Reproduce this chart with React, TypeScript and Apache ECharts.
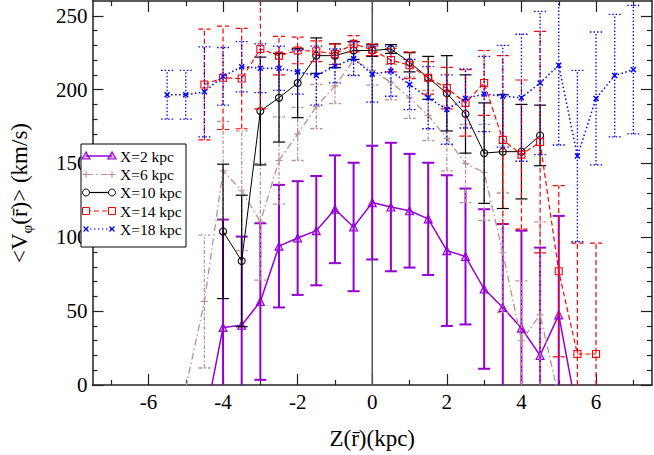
import React, { useEffect, useRef } from "react";
import * as echarts from "echarts";

// ---------------- data ----------------
const zX2 = [-4.5, -4, -3.5, -3, -2.5, -2, -1.5, -1, -0.5, 0, 0.5, 1, 1.5, 2, 2.5, 3, 3.5, 4, 4.5, 5, 5.5];
const vX2 = [-26, 39, 40.5, 56.5, 94, 99.5, 104.5, 119, 107, 123.5, 120.5, 118, 112.5, 91, 87, 65, 52.5, 38.5, 20, 47.5, -20];
const eX2 = [15, 73, 60, 53, 41.5, 38.5, 37, 36.5, 43.5, 38.5, 43.5, 38.5, 38, 51, 46, 54, 56.5, 66, 73, 67, 15];

const zX6 = [-5, -4.5, -4, -3.5, -3, -2.5, -2, -1.5, -1, -0.5, 0, 0.5, 1, 1.5, 2, 2.5, 3, 3.5, 4, 4.5, 5];
const vX6 = [-2, 56.5, 145, 131.5, 110.5, 152, 170, 188.5, 202.5, 220, 213, 205, 194.5, 182.5, 167, 150, 144, 89.5, 30, 47.5, -8];
const eX6 = [1, 45, 33.5, 40.5, 39.5, 29.5, 18, 15, 12, 10, 10, 12, 14, 17, 22, 26.5, 32.5, 40.5, 40.5, 63, 1];

const zX10 = [-4, -3.5, -3, -2.5, -2, -1.5, -1, -0.5, 0, 0.5, 1, 1.5, 2, 2.5, 3, 3.5, 4, 4.5];
const vX10 = [104, 84, 185.5, 194.5, 204.5, 223, 223, 226.5, 226.5, 227.5, 218.5, 208, 197.5, 183.5, 157, 158, 158, 169];
const eX10 = [45.5, 44.5, 36.5, 30, 23.5, 12, 8, 6, 4, 3, 6.5, 14.5, 25.5, 26.5, 34, 38.5, 32, 20.5];

const zX14 = [-4.5, -4, -3.5, -3, -2.5, -2, -1.5, -1, -0.5, 0, 0.5, 1, 1.5, 2, 2.5, 3, 3.5, 4, 4.5, 5, 5.5, 6];
const vX14 = [203.5, 208, 207.5, 227.5, 223, 226.5, 226, 224, 231, 227, 220, 216.5, 208, 201, 191, 204.5, 166, 156, 164.5, 77, 21, 21];
const eX14 = [37.5, 35, 34, 40.5, 13, 9, 7, 7, 5.5, 4, 8, 9, 11, 14, 22.5, 22, 57, 50.5, 75, 58, 75, 75];

const zX18 = [-5.5, -5, -4.5, -4, -3.5, -3, -2.5, -2, -1.5, -1, -0.5, 0, 0.5, 1, 1.5, 2, 2.5, 3, 3.5, 4, 4.5, 5, 5.5, 6, 6.5, 7];
const vX18 = [196.5, 196.5, 198.5, 209, 215.5, 214.5, 214.5, 212, 209.5, 216, 221, 210.5, 212.5, 203.5, 194.5, 186.5, 194, 197, 195.5, 194.5, 204.5, 216.5, 155, 194, 209.5, 213.5];
const eX18 = [16.5, 16.5, 30.5, 19.5, 17, 16.5, 15, 15, 20, 11.5, 11.5, 19, 17, 17, 21, 23.5, 20, 25.5, 34.5, 43, 48.5, 54, 58, 45, 41.5, 43.5];

const seriesNames = ["X=2 kpc", "X=6 kpc", "X=10 kpc", "X=14 kpc", "X=18 kpc"];

const xLabelValues = [-6, -4, -2, 0, 2, 4, 6];
const xMinorValues = [-7, -5, -3, -1, 1, 3, 5, 7];
const yLabelValues = [0, 50, 100, 150, 200, 250];
const yMinorValues = [10, 20, 30, 40, 60, 70, 80, 90, 110, 120, 130, 140, 160, 170, 180, 190, 210, 220, 230, 240];
const zeroLine = [[0, 0], [0, 260]];

// ---------------- config ----------------
const X_MIN = -7.5, X_MAX = 7.5, Y_MIN = 0, Y_MAX = 260;
const FONT = "Liberation Serif";

const PLUS = "path://M0,5L10,5M5,0L5,10";
const CROSS = "path://M0,0L10,10M10,0L0,10";

type Style = {
  color: string;
  fill: string;
  symbol: string;
  symbolSize: number;
  lineWidth: number;
  dash: number[] | null;
  errWidth: number;
  errDash: number[] | null;
};

const styles: Style[] = [
  { color: "#9400d3", fill: "rgba(148,0,211,0.3)", symbol: "triangle", symbolSize: 8, lineWidth: 1.5, dash: null, errWidth: 2, errDash: null },
  { color: "#bc8f8f", fill: "#bc8f8f", symbol: PLUS, symbolSize: 7, lineWidth: 1.3, dash: [7, 3, 1.5, 3], errWidth: 1.3, errDash: [4, 2, 1.5, 2] },
  { color: "#000000", fill: "rgba(0,0,0,0)", symbol: "circle", symbolSize: 7, lineWidth: 1, dash: null, errWidth: 1.2, errDash: null },
  { color: "#ff0000", fill: "rgba(0,0,0,0)", symbol: "rect", symbolSize: 7, lineWidth: 1.2, dash: [5, 3], errWidth: 1.2, errDash: [5, 3] },
  { color: "#0000ff", fill: "#0000ff", symbol: CROSS, symbolSize: 5, lineWidth: 1.5, dash: [1.5, 2.5], errWidth: 1.3, errDash: [1.5, 2] },
];

const groups = [
  [zX2, vX2, eX2],
  [zX6, vX6, eX6],
  [zX10, vX10, eX10],
  [zX14, vX14, eX14],
  [zX18, vX18, eX18],
];

function errRender(st: Style) {
  return (params: any, api: any) => {
    const z = api.value(0);
    const lo = api.value(1);
    const hi = api.value(2);
    const loC = Math.max(lo, Y_MIN);
    const hiC = Math.min(hi, Y_MAX);
    if (hiC <= loC) return { type: "group", children: [] };
    const p1 = api.coord([z, loC]);
    const p2 = api.coord([z, hiC]);
    const hw = 6;
    const ls = { stroke: st.color, lineWidth: st.errWidth, lineDash: st.errDash || undefined, fill: null };
    const children: any[] = [
      { type: "line", shape: { x1: p1[0], y1: p1[1], x2: p2[0], y2: p2[1] }, style: ls },
    ];
    if (lo >= Y_MIN) children.push({ type: "line", shape: { x1: p1[0] - hw, y1: p1[1], x2: p1[0] + hw, y2: p1[1] }, style: ls });
    if (hi <= Y_MAX) children.push({ type: "line", shape: { x1: p2[0] - hw, y1: p2[1], x2: p2[0] + hw, y2: p2[1] }, style: ls });
    return { type: "group", children };
  };
}

function legendSymbol(i: number, cx: number, cy: number): any[] {
  const st = styles[i];
  const z = 101;
  if (i === 0) {
    return [{ type: "polygon", z, shape: { points: [[cx, cy - 4], [cx - 4, cy + 3], [cx + 4, cy + 3]] }, style: { fill: st.fill, stroke: st.color, lineWidth: 1.2 } }];
  }
  if (i === 1) {
    return [
      { type: "line", z, shape: { x1: cx - 3.5, y1: cy, x2: cx + 3.5, y2: cy }, style: { stroke: st.color, lineWidth: 1 } },
      { type: "line", z, shape: { x1: cx, y1: cy - 3.5, x2: cx, y2: cy + 3.5 }, style: { stroke: st.color, lineWidth: 1 } },
    ];
  }
  if (i === 2) {
    return [{ type: "circle", z, shape: { cx, cy, r: 3.5 }, style: { fill: "#fff", stroke: st.color, lineWidth: 1 } }];
  }
  if (i === 3) {
    return [{ type: "rect", z, shape: { x: cx - 3.5, y: cy - 3.5, width: 7, height: 7 }, style: { fill: "#fff", stroke: st.color, lineWidth: 1 } }];
  }
  return [
    { type: "line", z, shape: { x1: cx - 2.5, y1: cy - 2.5, x2: cx + 2.5, y2: cy + 2.5 }, style: { stroke: st.color, lineWidth: 1.3 } },
    { type: "line", z, shape: { x1: cx + 2.5, y1: cy - 2.5, x2: cx - 2.5, y2: cy + 2.5 }, style: { stroke: st.color, lineWidth: 1.3 } },
  ];
}

function buildLegend(): any[] {
  const left = 81, top = 144, w = 105, h = 103;
  const els: any[] = [
    { type: "rect", z: 100, shape: { x: left, y: top, width: w, height: h }, style: { fill: "#fff", stroke: "#000", lineWidth: 1 } },
  ];
  const rows = [156, 174.5, 192.5, 211, 229];
  rows.forEach((y, i) => {
    const st = styles[i];
    els.push({
      type: "line", z: 101,
      shape: { x1: 86, y1: y, x2: 112, y2: y },
      style: { stroke: st.color, lineWidth: i === 0 ? 1.5 : 1.2, lineDash: st.dash || undefined },
    });
    els.push(...legendSymbol(i, 86, y));
    els.push(...legendSymbol(i, 112, y));
    els.push({
      type: "text", z: 101, x: 120, y,
      style: { text: seriesNames[i], font: `15.5px "${FONT}"`, fill: "#000", verticalAlign: "middle", align: "left" },
    });
  });
  return els;
}

function buildOption(): any {
  const series: any[] = [
    {
      type: "line", data: zeroLine, symbol: "none", silent: true, z: 1,
      lineStyle: { color: "#555", width: 1.5 }, xAxisIndex: 0, yAxisIndex: 0,
    },
  ];
  groups.forEach((g, i) => {
    const [zs, vs, es] = g as number[][];
    const st = styles[i];
    series.push({
      type: "custom",
      name: seriesNames[i] + " err",
      renderItem: errRender(st),
      data: zs.map((z, k) => [z, vs[k] - es[k], vs[k] + es[k]]),
      encode: { x: 0, y: [1, 2] },
      xAxisIndex: 0, yAxisIndex: 0,
      z: 2 + i * 2,
      silent: true,
    });
    series.push({
      type: "line",
      name: seriesNames[i],
      data: zs.map((z, k) => [z, vs[k]]),
      xAxisIndex: 0, yAxisIndex: 0,
      symbol: st.symbol,
      symbolSize: st.symbolSize,
      showAllSymbol: true,
      clip: true,
      z: 3 + i * 2,
      lineStyle: { color: st.color, width: st.lineWidth, type: st.dash ? st.dash : "solid" },
      itemStyle: { color: st.fill, borderColor: st.color, borderWidth: i === 4 ? 1.5 : 1.1 },
      emphasis: { disabled: true },
    });
  });

  const axisLine = { show: true, onZero: false, lineStyle: { color: "#222", width: 1.5 } };
  const noLine = { show: false, onZero: false };
  const tickStyle = { color: "#222", width: 1.2 };
  const labelFont = { fontSize: 21, fontFamily: FONT, color: "#000" };

  const xTickAxis = (position: string, values: number[], length: number, withLine: boolean) => ({
    type: "value", min: X_MIN, max: X_MAX, position,
    axisLine: withLine ? axisLine : noLine,
    axisTick: { show: true, inside: true, length, customValues: values, lineStyle: tickStyle },
    axisLabel: { show: false },
    splitLine: { show: false },
  });
  const yTickAxis = (position: string, values: number[], length: number, withLine: boolean) => ({
    type: "value", min: Y_MIN, max: Y_MAX, position,
    axisLine: withLine ? axisLine : noLine,
    axisTick: { show: true, inside: true, length, customValues: values, lineStyle: tickStyle },
    axisLabel: { show: false },
    splitLine: { show: false },
  });

  return {
    animation: false,
    backgroundColor: "#fff",
    grid: { left: 80, right: 2, top: 1, bottom: 54, containLabel: false },
    xAxis: [
      {
        type: "value", min: X_MIN, max: X_MAX, position: "bottom",
        axisLine,
        axisTick: { show: true, inside: true, length: 11, customValues: xLabelValues, lineStyle: tickStyle },
        axisLabel: { show: true, customValues: xLabelValues, ...labelFont, margin: 6 },
        splitLine: { show: false },
        name: "Z(r\u0304)(kpc)",
        nameLocation: "middle",
        nameGap: 42,
        nameTextStyle: { fontSize: 23, fontFamily: FONT, color: "#000" },
      },
      xTickAxis("bottom", xMinorValues, 5, false),
      xTickAxis("top", xLabelValues, 11, true),
      xTickAxis("top", xMinorValues, 5, false),
    ],
    yAxis: [
      {
        type: "value", min: Y_MIN, max: Y_MAX, position: "left",
        axisLine,
        axisTick: { show: true, inside: true, length: 11, customValues: yLabelValues, lineStyle: tickStyle },
        axisLabel: { show: true, customValues: yLabelValues, ...labelFont, margin: 5 },
        splitLine: { show: false },
        name: "{n|<V}{sub|\u03c6}{n|(r\u0304)> (km/s)}",
        nameLocation: "middle",
        nameGap: 58,
        nameTextStyle: {
          fontSize: 23, fontFamily: FONT, color: "#000",
          rich: {
            n: { fontSize: 23, fontFamily: FONT, color: "#000", lineHeight: 30, verticalAlign: "middle" },
            sub: { fontSize: 15, fontFamily: FONT, color: "#000", lineHeight: 15, verticalAlign: "bottom" },
          },
        },
      },
      yTickAxis("left", yMinorValues, 5, false),
      yTickAxis("right", yLabelValues, 11, true),
      yTickAxis("right", yMinorValues, 5, false),
    ],
    graphic: buildLegend(),
    series,
  };
}

export default function App() {
  const ref = useRef<HTMLDivElement>(null);
  useEffect(() => {
    if (!ref.current) return;
    document.body.style.margin = "0";
    const chart = echarts.init(ref.current, null, { renderer: "svg" });
    chart.setOption(buildOption());
    return () => chart.dispose();
  }, []);
  return <div ref={ref} style={{ position: "fixed", left: 0, top: 0, width: 654, height: 455, background: "#fff" }} />;
}
